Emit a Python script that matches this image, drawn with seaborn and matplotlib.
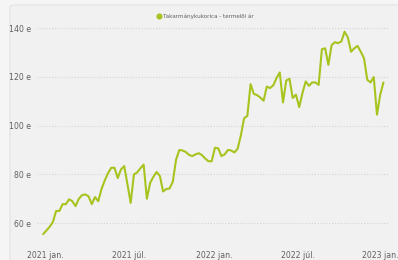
import numpy as np
import pandas as pd
import matplotlib
matplotlib.use("Agg")
import matplotlib.pyplot as plt
import matplotlib.transforms as mtransforms
from matplotlib.lines import Line2D
from matplotlib.patches import FancyBboxPatch
import seaborn as sns

series_name = "Takarmánykukorica - termelői ár"
start_date = "2020-12-28"
prices = [
    55.5, 57.0, 58.5, 60.5, 65.0, 65.0, 67.8, 67.8, 69.8, 69.0,
    67.0, 70.0, 71.5, 71.8, 71.0, 67.8, 70.7, 69.0, 74.0, 77.5,
    80.5, 82.7, 82.7, 78.5, 82.0, 83.4, 76.0, 68.3, 80.0, 80.8,
    82.5, 84.0, 70.0, 76.5, 79.0, 81.0, 79.4, 73.0, 74.0, 74.2,
    77.0, 86.0, 90.0, 89.8, 89.2, 88.0, 87.5, 88.2, 88.7, 87.9,
    86.5, 85.4, 85.4, 90.9, 90.7, 87.5, 88.2, 90.0, 89.8, 89.0,
    90.5, 96.0, 103.0, 104.0, 117.0, 113.0, 112.5, 111.5, 110.2, 116.0,
    115.4, 116.5, 119.5, 121.8, 109.5, 118.5, 119.2, 111.3, 112.7, 107.6,
    113.3, 118.1, 116.3, 117.7, 117.7, 116.7, 131.3, 131.7, 124.9, 133.0,
    134.2, 133.8, 134.5, 138.5, 136.2, 130.3, 131.7, 132.7, 130.3, 127.6,
    118.8, 117.7, 119.9, 104.5, 112.7, 117.7,
]
y_ticks = [60, 80, 100, 120, 140]
y_tick_labels = ["60 e", "80 e", "100 e", "120 e", "140 e"]
x_ticks = ["2021-01-01", "2021-07-01", "2022-01-01", "2022-07-01", "2023-01-01"]
x_tick_labels = ["2021 jan.", "2021 júl.", "2022 jan.", "2022 júl.", "2023 jan."]

df = pd.DataFrame({
    "date": pd.date_range(start_date, periods=len(prices), freq="7D"),
    "price": prices,
})

line_color = "#a6c41e"
text_color = "#606060"

sns.set_style("white")
fig = plt.figure(figsize=(3.98, 2.60), dpi=100)
fig.patch.set_facecolor("#f5f5f5")

panel = FancyBboxPatch((10 / 398, -0.05), 1.2, 1.0 - 5 / 260 + 0.05,
                       boxstyle="round,pad=0,rounding_size=0.01",
                       transform=fig.transFigure, facecolor="#f1f1f1",
                       edgecolor="#e2e2e2", linewidth=0.8, zorder=-5)
fig.patches.append(panel)

ax = fig.add_axes([37 / 398, 1 - 240 / 260, (388 - 37) / 398, (240 - 20) / 260])
ax.set_zorder(2)
ax.set_facecolor("none")
ax.patch.set_alpha(0)

sns.lineplot(data=df, x="date", y="price", ax=ax, color=line_color,
             linewidth=1.5, legend=False)

ax.set_ylim(53.1, 143.3)
ax.set_xlim(pd.Timestamp("2020-12-14 16:00"), pd.Timestamp("2023-01-11 19:00"))
ax.set_yticks(y_ticks)
ax.set_yticklabels(y_tick_labels)
ax.set_xticks([pd.Timestamp(t) for t in x_ticks])
ax.set_xticklabels(x_tick_labels)
ax.tick_params(axis="both", length=0, labelsize=5.6, colors=text_color)
ax.tick_params(axis="x", pad=8)
ax.tick_params(axis="y", pad=4)
ax.set_xlabel("")
ax.set_ylabel("")
ax.grid(axis="y", color="#d4d4d4", linestyle=(0, (1, 1.6)), linewidth=0.8)
ax.grid(axis="x", visible=False)
for s in ax.spines.values():
    s.set_visible(False)

# nudge the last x label slightly so it stays inside the image
last = ax.get_xticklabels()[-1]
last.set_transform(last.get_transform() +
                   mtransforms.ScaledTranslation(-2.5 / 100, 0, fig.dpi_scale_trans))

handle = Line2D([], [], marker="o", linestyle="none", markersize=3.4,
                markerfacecolor=line_color, markeredgecolor=line_color)
fig.legend([handle], [series_name], loc="center", bbox_to_anchor=(0.515, 1 - 16 / 260),
           frameon=False, fontsize=4.1, handletextpad=0.15, handlelength=1.0,
           labelcolor="#606060")

fig.savefig("out.png", dpi=100, facecolor=fig.get_facecolor())
